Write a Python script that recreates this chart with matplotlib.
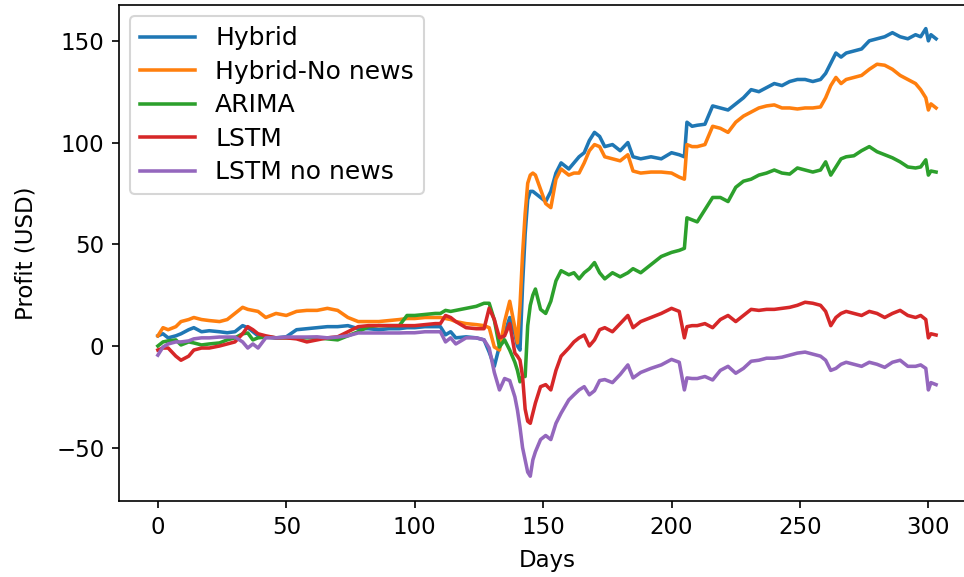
import matplotlib
matplotlib.use("Agg")
import matplotlib.pyplot as plt

# -------------------------------
# Valeurs
# -------------------------------
days = [0, 2, 4, 7, 9, 12, 14, 17, 20, 24,
        27, 30, 33, 35, 37, 39, 42, 46, 50, 54,
        58, 62, 66, 70, 74, 78, 82, 86, 90, 94,
        97, 100, 104, 108, 110, 112, 114, 116, 120, 124,
        127, 129, 131, 133, 135, 137, 139, 140, 141, 142,
        143, 144, 145, 146, 147, 149, 151, 153, 155, 157,
        160, 162, 164, 166, 168, 170, 172, 174, 177, 180,
        183, 185, 188, 192, 196, 200, 203, 205, 206, 208,
        210, 213, 216, 219, 222, 225, 228, 231, 234, 237,
        240, 243, 246, 249, 252, 255, 258, 260, 262, 264,
        266, 268, 271, 274, 277, 280, 283, 286, 289, 292,
        295, 297, 299, 300, 301, 303]

hybrid = [5, 6, 4, 5, 6, 8, 9, 7, 7.5, 7,
          6.5, 7, 10, 9, 7, 5, 4.5, 4, 4.5, 8,
          8.5, 9, 9.5, 9.5, 10, 8.5, 8.5, 8, 8.5, 8.5,
          9, 9, 9.5, 9.5, 9.5, 5.5, 7, 4, 4.5, 4,
          3, -3, -10, 0, 6, 14, 6, 0, -2, 30,
          55, 72, 76, 76, 75, 73, 71, 76, 85, 90,
          87, 90, 93, 95, 101, 105, 103, 98, 99, 96,
          100, 93, 92, 93, 92, 95, 94, 93, 110, 108,
          108.5, 109, 118, 117, 116, 119, 122, 126, 125, 127,
          129, 128, 130, 131, 131, 130, 131, 134, 139, 144,
          142, 144, 145, 146, 150, 151, 152, 154, 152, 151,
          153, 152, 156, 150, 153, 151]

hybrid_no_news = [5, 9, 8, 9.5, 12, 13, 14, 13, 12.5, 12,
                  13, 16, 19, 18, 17.5, 17, 14, 16, 15, 17,
                  17.5, 17.5, 18.5, 17.5, 14, 12, 12, 12, 12.5, 13,
                  13.5, 13.5, 14, 14, 14, 13.5, 13, 12, 11, 10.5,
                  10, 9, -0.5, -2, 12, 22, 9, 1.5, 20, 45,
                  65, 80, 84, 85, 84, 77, 70, 68, 82, 87,
                  84, 85, 85, 90, 96, 99, 98, 93, 92, 91,
                  94, 86, 85, 85.5, 85.5, 85, 83, 82, 99, 98,
                  98, 99, 108, 107, 105, 110, 113, 115, 117, 118,
                  118.5, 117, 117, 116.5, 117, 117, 117.5, 122, 128, 132,
                  129, 131, 132, 133, 136, 138.5, 138, 136, 133, 131,
                  129, 126, 122, 116, 119, 117]

arima = [0, 2, 2.5, 3, 0.5, 2, 1.5, 0.5, 1, 1.5,
         3, 4, 6, 6.4, 3, 4, 4.4, 4, 4, 4,
         4, 4, 3.5, 3, 5, 7, 9.5, 10, 10, 10,
         15, 15, 15.5, 16, 16, 17.5, 17, 17.5, 18.5, 19.5,
         21, 21, 12.8, -0.5, 3, -2, -8, -12, -17.6, -15,
         -15, 10, 20, 25, 28, 18, 16, 22, 32, 37,
         35, 36, 33, 36, 38, 41, 36, 33, 36, 34,
         36, 38, 36, 40, 44, 46, 47, 48, 63, 62,
         61, 67, 73, 73, 71, 78, 81, 82, 84, 85,
         86.5, 85, 84.5, 87.5, 86.5, 85.5, 86.5, 90.5, 84, 88,
         92, 93, 93.5, 96, 98, 95.5, 94, 92.5, 90.5, 88,
         87.5, 88, 91.5, 84, 86, 85.5]

lstm = [-2, -1, -1, -5, -7, -5, -2, -1, -1, 0,
        1, 2, 6, 9.5, 8, 6, 5, 4, 4, 3.5,
        2, 3, 4, 4.5, 7, 9.5, 10, 10, 10, 10,
        10, 10, 10.5, 11, 11, 15, 14, 12, 9, 8.5,
        8.5, 18.6, 13, 4, 5, 11, -3.5, -5, -7, -15,
        -31, -37, -38, -33, -28, -20, -19, -21.6, -12, -5,
        -1, 2, 4, 5.4, 0, 3, 8, 9, 7, 11,
        15, 9, 12, 14, 16, 18.5, 17, 4, 9.5, 10,
        10, 11, 9, 13, 15, 12, 15, 18, 17.5, 18,
        18, 18.5, 19, 20, 21.5, 21, 20, 17, 10, 14,
        16, 17, 16, 15, 17, 16, 14, 16, 17.5, 15,
        14, 15, 13, 4, 6, 5.4]

lstm_no_news = [-4.5, -0.5, 1, 2, 2, 2.5, 3.5, 4, 4, 4.4,
                4.4, 4.4, 2, -1, 1, -1, 4, 4, 4.4, 4.4,
                4.4, 4.5, 4, 4.4, 5, 6.4, 6.4, 6.4, 6.4, 6.4,
                6.5, 6.5, 7, 7, 7, 2, 4, 1, 4, 4,
                3, -1, -13, -21.6, -16, -17, -25, -31.5, -40, -50,
                -56, -62, -64, -56, -52, -46, -44, -46, -38, -33,
                -26.5, -24, -21.6, -20, -24, -22, -17, -16.5, -18, -14,
                -9.3, -15.7, -13, -11, -9.3, -6.6, -8, -21.6, -15.7, -16,
                -16, -15, -16.7, -12, -10, -13.4, -11, -7.5, -7, -6,
                -6, -5.5, -4.5, -3.5, -3, -4, -5, -7, -12, -11,
                -9, -8, -9, -10, -8, -9, -10.5, -8, -7, -10,
                -10, -9.3, -11, -21.6, -18, -19]

# -------------------------------
# Graphique
# -------------------------------
plt.rcParams["font.size"] = 11
plt.rcParams["lines.linewidth"] = 1.7

fig = plt.figure(figsize=(964 / 150, 577 / 150), dpi=150)
ax = fig.add_axes([0.1234, 0.1317, 0.888, 0.8596])

ax.plot(days, hybrid, label="Hybrid")
ax.plot(days, hybrid_no_news, label="Hybrid-No news")
ax.plot(days, arima, label="ARIMA")
ax.plot(days, lstm, label="LSTM")
ax.plot(days, lstm_no_news, label="LSTM no news")

ax.set_xlim(-15.15, 318.15)
ax.set_ylim(-76.2, 167.6)
ax.set_xlabel("Days", labelpad=5)
ax.set_ylabel("Profit (USD)", labelpad=9)
ax.legend(loc="upper left", fontsize=12, handlelength=2.2,
          labelspacing=0.38, borderaxespad=0.45)

fig.savefig("out.png", dpi=150)
